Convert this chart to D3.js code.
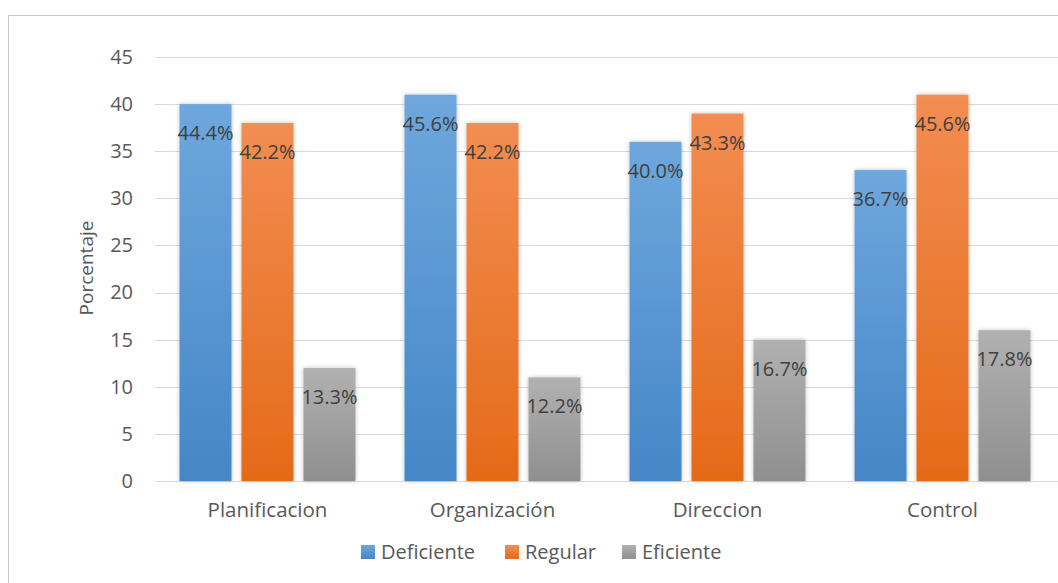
<!DOCTYPE html>
<html>
<head>
<meta charset="utf-8">
<script src="https://cdn.jsdelivr.net/npm/d3@7"></script>
<style>
  body { margin: 0; background: #fff; }
  svg { font-family: "Open Sans", sans-serif; }
</style>
</head>
<body>
<svg id="chart" width="1058" height="583"></svg>
<script>
// Categories and series
const categories = ["Planificacion", "Organización", "Direccion", "Control"];
const seriesNames = ["Deficiente", "Regular", "Eficiente"];
const deficiente = [40, 41, 36, 33];
const regular = [38, 38, 39, 41];
const eficiente = [12, 11, 15, 16];
const labelsDeficiente = ["44.4%", "45.6%", "40.0%", "36.7%"];
const labelsRegular = ["42.2%", "42.2%", "43.3%", "45.6%"];
const labelsEficiente = ["13.3%", "12.2%", "16.7%", "17.8%"];
const yTicks = [0, 5, 10, 15, 20, 25, 30, 35, 40, 45];

const seriesValues = [deficiente, regular, eficiente];
const seriesLabels = [labelsDeficiente, labelsRegular, labelsEficiente];
const gradients = [
    ["#6ea7dd", "#4586c7"],
    ["#f28d52", "#e56a18"],
    ["#b1b1b1", "#8f8f8f"]
];

const svg = d3.select("#chart");

// outer border of the chart area
svg.append("rect")
    .attr("x", 8.5).attr("y", 15.5)
    .attr("width", 1100).attr("height", 600)
    .attr("fill", "none")
    .attr("stroke", "#c8c8c8")
    .attr("stroke-width", 1);

const defs = svg.append("defs");
gradients.forEach((g, i) => {
    const lg = defs.append("linearGradient")
        .attr("id", "grad" + i)
        .attr("x1", 0).attr("y1", 0).attr("x2", 0).attr("y2", 1);
    lg.append("stop").attr("offset", "0%").attr("stop-color", g[0]);
    lg.append("stop").attr("offset", "100%").attr("stop-color", g[1]);
});
const shadow = defs.append("filter").attr("id", "shadow")
    .attr("x", "-20%").attr("y", "-5%").attr("width", "140%").attr("height", "110%");
shadow.append("feDropShadow")
    .attr("dx", 0).attr("dy", 0).attr("stdDeviation", 2)
    .attr("flood-color", "#000").attr("flood-opacity", 0.25);

const x0 = d3.scaleBand()
    .domain(categories)
    .range([155, 1055])
    .paddingInner(0.218)
    .paddingOuter(0.109);

const x1 = d3.scaleBand()
    .domain(seriesNames)
    .range([0, x0.bandwidth()])
    .paddingInner(0.161);

const y = d3.scaleLinear()
    .domain([0, 45])
    .range([481, 57]);

// gridlines
svg.append("g")
    .selectAll("line")
    .data(yTicks)
    .join("line")
    .attr("x1", 155).attr("x2", 1058)
    .attr("y1", d => Math.round(y(d)) + 0.5)
    .attr("y2", d => Math.round(y(d)) + 0.5)
    .attr("stroke", "#d9d9d9")
    .attr("stroke-width", 1);

// y axis labels
const yAxis = d3.axisLeft(y).tickValues(yTicks).tickSize(0).tickPadding(0);
svg.append("g")
    .attr("transform", "translate(133,0)")
    .call(yAxis)
    .call(g => g.select(".domain").remove())
    .call(g => g.selectAll("text")
        .attr("fill", "#595959")
        .attr("font-size", "20px")
        .attr("font-family", "'Open Sans', sans-serif"));

// bars
const groups = svg.append("g")
    .selectAll("g")
    .data(categories)
    .join("g")
    .attr("transform", d => `translate(${x0(d)},0)`);

groups.selectAll("rect")
    .data((d, ci) => seriesNames.map((s, si) => ({ s, si, v: seriesValues[si][ci] })))
    .join("rect")
    .attr("x", d => x1(d.s))
    .attr("y", d => y(d.v))
    .attr("width", x1.bandwidth())
    .attr("height", d => y(0) - y(d.v))
    .attr("fill", d => `url(#grad${d.si})`)
    .attr("filter", "url(#shadow)");

groups.selectAll("text")
    .data((d, ci) => seriesNames.map((s, si) => ({ s, si, v: seriesValues[si][ci], label: seriesLabels[si][ci] })))
    .join("text")
    .attr("x", d => x1(d.s) + x1.bandwidth() / 2)
    .attr("y", d => y(d.v) + 36)
    .attr("text-anchor", "middle")
    .attr("font-size", "20px")
    .attr("fill", "#404040")
    .text(d => d.label);

// category labels
const xAxis = d3.axisBottom(x0).tickSize(0).tickPadding(0);
svg.append("g")
    .attr("transform", "translate(0,502)")
    .call(xAxis)
    .call(g => g.select(".domain").remove())
    .call(g => g.selectAll("text")
        .attr("fill", "#595959")
        .attr("font-size", "20.5px")
        .attr("font-family", "'Open Sans', sans-serif"));

// y axis title
svg.append("text")
    .attr("transform", "translate(93,268) rotate(-90)")
    .attr("text-anchor", "middle")
    .attr("font-size", "19px")
    .attr("fill", "#595959")
    .text("Porcentaje");

// legend
const legendX = [361, 505, 622];
const legend = svg.append("g")
    .selectAll("g")
    .data(seriesNames)
    .join("g")
    .attr("transform", (d, i) => `translate(${legendX[i]},545)`);
legend.append("rect")
    .attr("width", 14).attr("height", 14)
    .attr("fill", (d, i) => `url(#grad${i})`);
legend.append("text")
    .attr("x", 20).attr("y", 14)
    .attr("font-size", "20px")
    .attr("fill", "#595959")
    .text(d => d);
</script>
</body>
</html>
